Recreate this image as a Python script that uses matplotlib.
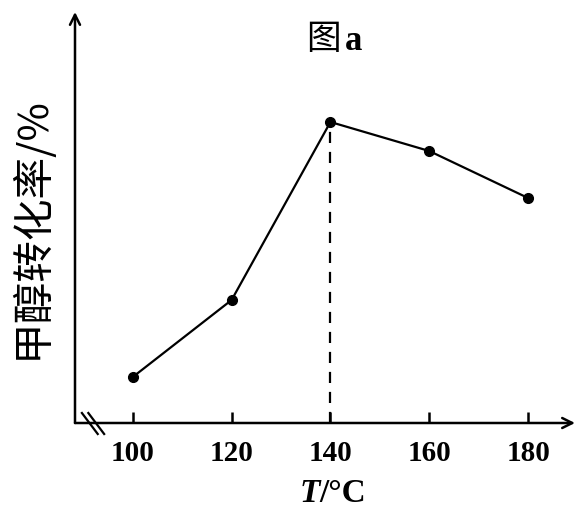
import matplotlib
matplotlib.use('Agg')
import matplotlib.pyplot as plt
from matplotlib.offsetbox import TextArea, HPacker, AnnotationBbox

# data (y has no scale, arbitrary units)
temps = [100, 120, 140, 160, 180]
conversion = [46, 123, 301, 272, 225]
tick_labels = ['100', '120', '140', '160', '180']
peak_T = 140

serif = ['Liberation Serif', 'DejaVu Serif']
cjk = ['Noto Sans CJK SC', 'DejaVu Sans']

fig = plt.figure(figsize=(5.78, 5.13), dpi=100)
ax = fig.add_axes([75 / 578, 90 / 513, 500 / 578, 411 / 513])
ax.set_xlim(88.3, 189.5)
ax.set_ylim(0, 411)

for s in ax.spines.values():
    s.set_visible(False)

# axes with arrows
ax.annotate('', xy=(0, 1), xytext=(0, 0), xycoords='axes fraction',
            arrowprops=dict(arrowstyle='->', lw=1.8, color='black',
                            mutation_scale=18, shrinkA=0, shrinkB=0))
ax.annotate('', xy=(1, 0), xytext=(0, 0), xycoords='axes fraction',
            arrowprops=dict(arrowstyle='->', lw=1.8, color='black',
                            mutation_scale=18, shrinkA=0, shrinkB=0))

# ticks pointing up into the plot
ax.set_xticks(temps)
ax.set_xticklabels(tick_labels, fontfamily=serif, fontweight='bold', fontsize=21)
ax.tick_params(axis='x', direction='in', length=8, width=1.8, pad=12)
ax.set_yticks([])

# axis break mark (two back-slashes)
for dx in (0, 1.3):
    ax.plot([89.7 + dx, 92.9 + dx], [10, -11], color='black', lw=1.6,
            clip_on=False)

ax.plot(temps, conversion, color='black', lw=1.6, marker='o', markersize=7,
        clip_on=False)
ax.plot([peak_T, peak_T], [0, conversion[2]], color='black', lw=1.6,
        linestyle=(0, (5, 4)))

# y label
fig.text(31 / 578, 1 - 228 / 513, '甲醇转化率/%', rotation=90, ha='center',
         va='center', fontsize=30, fontfamily=cjk)

# title "图a"
title = HPacker(children=[
    TextArea('图', textprops=dict(fontsize=25, fontfamily=cjk)),
    TextArea('a', textprops=dict(fontsize=25, fontfamily=serif, fontweight='bold')),
], align='baseline', pad=0, sep=3)
fig.add_artist(AnnotationBbox(title, (334 / 578, 1 - 40 / 513),
                              xycoords='figure fraction', frameon=False))

# x label "T/°C"
xlab = HPacker(children=[
    TextArea('T', textprops=dict(fontsize=24, fontfamily=serif, fontweight='bold',
                                 fontstyle='italic')),
    TextArea('/°C', textprops=dict(fontsize=24, fontfamily=serif, fontweight='bold')),
], align='baseline', pad=0, sep=0)
fig.add_artist(AnnotationBbox(xlab, (333 / 578, 1 - 494 / 513),
                              xycoords='figure fraction', frameon=False))

fig.savefig('out.png', dpi=100)
